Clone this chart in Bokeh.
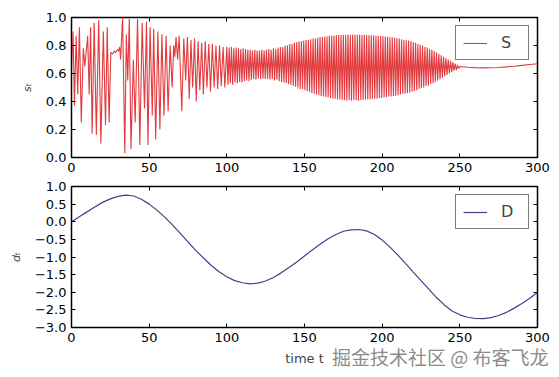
from bokeh.plotting import figure
from bokeh.layouts import column
from bokeh.models import LinearAxis, FixedTicker, CustomJSTickFormatter, Range1d, Title
from bokeh.embed import file_html
from bokeh.resources import INLINE

# ---------------- data ----------------
X_TICKS = [0, 50, 100, 150, 200, 250, 300]
S_Y_TICKS = [0.0, 0.2, 0.4, 0.6, 0.8, 1.0]
D_Y_TICKS = [-3.0, -2.5, -2.0, -1.5, -1.0, -0.5, 0.0, 0.5, 1.0]

# S: irregular early part (time, value)
S_EARLY_T = [0, 1.0, 1.9, 3.0, 4.0, 5.1, 6.3, 7.6, 8.6, 10.4, 11.4, 12.3, 13.3, 14.6, 16.0,
             17.5, 18.9, 20.5, 21.9, 23.0, 24.2, 25.3, 26.5, 27.5, 28.5, 29.5, 30.3, 31.0,
             31.6, 32.9, 34.3, 35.3, 36.2, 37.2, 38.3, 39.8, 41.0, 42.5, 44.0, 45.5, 47.0,
             48.3, 49.2, 50.6, 52.0, 52.9, 54.2, 55.6, 56.9, 58.2, 59.5, 60.9, 62.2, 63.5,
             64.8, 65.8, 66.5, 67.3, 68.3, 69.3, 71.0, 72.3, 73.5, 74.6, 75.8, 76.9, 78.0,
             79.2, 80.3, 81.5, 82.6, 83.8, 84.9, 86.1, 87.2, 88.4, 89.5, 90.7, 91.8, 93.0,
             94.1, 95.3, 96.4, 97.6, 98.7]
S_EARLY_V = [0.62, 0.90, 0.37, 0.87, 0.45, 0.93, 0.25, 0.78, 0.65, 0.87, 0.45, 0.93, 0.17, 0.96, 0.16,
             0.98, 0.10, 0.90, 0.23, 0.93, 0.25, 0.75, 0.74, 0.76, 0.75, 0.77, 0.76, 0.79,
             0.70, 1.00, 0.03, 0.88, 0.55, 0.99, 0.06, 0.70, 0.25, 0.99, 0.09, 0.96, 0.35,
             0.97, 0.09, 0.93, 0.30, 0.92, 0.13, 0.90, 0.20, 0.88, 0.30, 0.87, 0.33, 0.80,
             0.50, 0.80, 0.72, 0.86, 0.70, 0.87, 0.33, 0.85, 0.55, 0.86, 0.42, 0.84, 0.50,
             0.85, 0.40, 0.83, 0.48, 0.82, 0.45, 0.83, 0.50, 0.81, 0.47, 0.81, 0.50, 0.80,
             0.49, 0.80, 0.51, 0.79, 0.50]

# S: regular fast oscillation from t=100 to t=250 (peak, then trough, every 0.75)
S_OSC_START = 100.0
S_OSC_HALF = 0.75
S_PEAKS = [0.79, 0.785, 0.79, 0.78, 0.785, 0.78, 0.775, 0.78, 0.775, 0.77,
           0.77, 0.765, 0.77, 0.765, 0.765, 0.77, 0.765, 0.77, 0.775, 0.77,
           0.78, 0.775, 0.785, 0.79, 0.79, 0.80, 0.80, 0.81, 0.81, 0.82,
           0.825, 0.83, 0.83, 0.835, 0.84, 0.84, 0.845, 0.85, 0.85, 0.855,
           0.86, 0.86, 0.865, 0.865, 0.87, 0.87, 0.87, 0.875, 0.875, 0.875,
           0.877, 0.875, 0.878, 0.876, 0.878, 0.877, 0.876, 0.878, 0.875, 0.877,
           0.875, 0.873, 0.874, 0.872, 0.87, 0.87, 0.868, 0.867, 0.865, 0.863,
           0.86, 0.858, 0.855, 0.852, 0.85, 0.845, 0.84, 0.838, 0.835, 0.83,
           0.825, 0.82, 0.81, 0.805, 0.80, 0.79, 0.785, 0.775, 0.77, 0.76,
           0.75, 0.74, 0.73, 0.72, 0.71, 0.70, 0.69, 0.68, 0.67, 0.66]
S_TROUGHS = [0.52, 0.53, 0.52, 0.535, 0.53, 0.54, 0.535, 0.545, 0.55, 0.545,
             0.555, 0.56, 0.555, 0.565, 0.56, 0.565, 0.56, 0.56, 0.555, 0.56,
             0.55, 0.555, 0.545, 0.54, 0.535, 0.53, 0.525, 0.52, 0.51, 0.505,
             0.50, 0.49, 0.49, 0.48, 0.475, 0.47, 0.46, 0.455, 0.45, 0.445,
             0.44, 0.435, 0.43, 0.43, 0.425, 0.42, 0.42, 0.415, 0.415, 0.41,
             0.41, 0.405, 0.41, 0.405, 0.41, 0.41, 0.405, 0.41, 0.41, 0.415,
             0.415, 0.415, 0.42, 0.42, 0.42, 0.425, 0.425, 0.43, 0.43, 0.435,
             0.435, 0.44, 0.44, 0.445, 0.45, 0.455, 0.455, 0.46, 0.465, 0.47,
             0.475, 0.48, 0.49, 0.495, 0.50, 0.51, 0.515, 0.525, 0.53, 0.54,
             0.55, 0.56, 0.57, 0.58, 0.59, 0.60, 0.61, 0.62, 0.625, 0.635]

# S: settled tail
S_TAIL_T = [250, 255, 260, 265, 270, 275, 280, 285, 290, 295, 300]
S_TAIL_V = [0.650, 0.645, 0.642, 0.640, 0.641, 0.643, 0.647, 0.652, 0.658, 0.664, 0.670]

# D: smooth curve every 5 time units
D_T = [0, 5, 10, 15, 20, 25, 30, 35, 40, 45, 50, 55, 60, 65, 70, 75, 80, 85, 90, 95,
       100, 105, 110, 115, 120, 125, 130, 135, 140, 145, 150, 155, 160, 165, 170, 175,
       180, 185, 190, 195, 200, 205, 210, 215, 220, 225, 230, 235, 240, 245, 250, 255,
       260, 265, 270, 275, 280, 285, 290, 295, 300]
D_V = [0.0, 0.14, 0.28, 0.42, 0.55, 0.65, 0.72, 0.755, 0.73, 0.64, 0.50, 0.33, 0.13, -0.09,
       -0.33, -0.57, -0.81, -1.03, -1.24, -1.42, -1.56, -1.67, -1.73, -1.76, -1.74, -1.68,
       -1.58, -1.45, -1.30, -1.14, -0.97, -0.80, -0.64, -0.49, -0.37, -0.27, -0.23, -0.22,
       -0.26, -0.36, -0.52, -0.72, -0.94, -1.18, -1.43, -1.67, -1.91, -2.15, -2.36, -2.53,
       -2.64, -2.71, -2.745, -2.75, -2.72, -2.66, -2.57, -2.45, -2.32, -2.17, -2.01]

WATERMARK = "掘金技术社区 @ 布客飞龙"

# ---------------- assemble S series ----------------
s_t = list(S_EARLY_T)
s_v = list(S_EARLY_V)
for i, (pk, tr) in enumerate(zip(S_PEAKS, S_TROUGHS)):
    s_t.append(S_OSC_START + 2 * i * S_OSC_HALF)
    s_v.append(pk)
    s_t.append(S_OSC_START + (2 * i + 1) * S_OSC_HALF)
    s_v.append(tr)
s_t += S_TAIL_T
s_v += S_TAIL_V

FONT = "DejaVu Sans"
BLANK = CustomJSTickFormatter(code="return '';")


def style(p, ylabel, yfmt):
    p.grid.visible = False
    p.outline_line_color = "black"
    p.outline_line_width = 1.5
    p.background_fill_color = "white"
    p.border_fill_color = "white"
    for ax in p.xaxis:
        ax.ticker = FixedTicker(ticks=X_TICKS)
    for ax in p.axis:
        ax.axis_line_color = "black"
        ax.axis_line_width = 1
        ax.major_tick_in = 4
        ax.major_tick_out = 0
        ax.major_tick_line_color = "black"
        ax.minor_tick_line_color = None
        ax.major_label_text_font = FONT
        ax.major_label_text_font_size = "13px"
        ax.major_label_text_color = "black"
        ax.major_label_standoff = 5
    p.yaxis.axis_label = ylabel
    p.yaxis.axis_label_text_font = FONT
    p.yaxis.axis_label_text_font_size = "11px"
    p.yaxis.axis_label_text_font_style = "italic"
    p.yaxis.axis_label_standoff = 9
    p.yaxis.formatter = yfmt


def extra_axes(p, yticks):
    top_ax = LinearAxis(ticker=FixedTicker(ticks=X_TICKS), major_tick_in=4, major_tick_out=0,
                        formatter=BLANK, major_label_standoff=0,
                        axis_line_color="black", minor_tick_line_color=None)
    right_ax = LinearAxis(ticker=FixedTicker(ticks=yticks), major_tick_in=4, major_tick_out=0,
                          formatter=BLANK, major_label_standoff=0,
                          axis_line_color="black", minor_tick_line_color=None)
    p.add_layout(top_ax, "above")
    p.add_layout(right_ax, "right")


def legend_style(p):
    lg = p.legend[0]
    lg.location = "top_right"
    lg.margin = 8
    lg.border_line_color = "black"
    lg.border_line_width = 1
    lg.background_fill_color = "white"
    lg.background_fill_alpha = 1
    lg.label_text_font = FONT
    lg.label_text_font_size = "16px"
    lg.glyph_width = 24
    lg.glyph_height = 14
    lg.label_standoff = 14
    lg.padding = 7
    lg.spacing = 0


top = figure(frame_width=466, frame_height=140, x_range=Range1d(0, 300), y_range=Range1d(0, 1),
             output_backend="svg", toolbar_location=None,
             min_border_left=71, min_border_right=22, min_border_top=17, min_border_bottom=21)
top.line(s_t, s_v, line_color="#e23a3e", line_width=1.1, legend_label="S")
style(top, "s\u209c", CustomJSTickFormatter(code="return tick.toFixed(1);"))
top.yaxis[0].ticker = FixedTicker(ticks=S_Y_TICKS)
extra_axes(top, S_Y_TICKS)
legend_style(top)

bot = figure(frame_width=466, frame_height=141, x_range=Range1d(0, 300), y_range=Range1d(-3, 1),
             output_backend="svg", toolbar_location=None,
             min_border_left=71, min_border_right=22, min_border_top=8, min_border_bottom=50)
bot.line(D_T, D_V, line_color="#483d8b", line_width=1.2, legend_label="D")
style(bot, "d\u209c", CustomJSTickFormatter(code="return tick.toFixed(1).replace('-', '\u2212');"))
bot.yaxis[0].ticker = FixedTicker(ticks=D_Y_TICKS)
bot.xaxis[0].axis_label = "time t"
bot.xaxis[0].axis_label_text_font = FONT
bot.xaxis[0].axis_label_text_font_size = "13px"
bot.xaxis[0].axis_label_text_font_style = "normal"
bot.xaxis[0].axis_label_standoff = 6
extra_axes(bot, D_Y_TICKS)
legend_style(bot)

wm = Title(text=WATERMARK, align="right", offset=-11, standoff=-52, vertical_align="top",
           text_font="Noto Sans CJK SC", text_font_size="19px", text_font_style="normal",
           text_color="#8c8c8c")
bot.add_layout(wm, "below")

layout = column(top, bot, spacing=0)
open("out.html", "w").write(file_html(layout, INLINE))
